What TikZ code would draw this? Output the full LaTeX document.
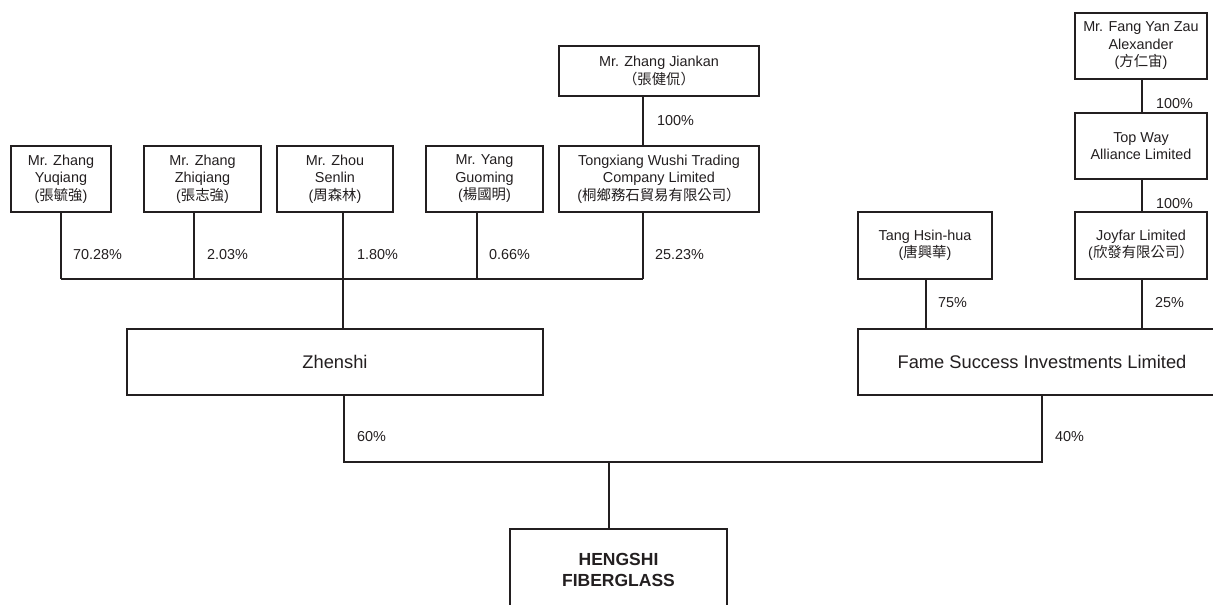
\documentclass[tikz,border=0pt]{standalone}
\usepackage{fontspec}
\setmainfont{Liberation Sans}
\newfontfamily\cjk{Noto Sans CJK TC}
\definecolor{ink}{HTML}{231F20}
\tikzset{
  box/.style={draw=ink, line width=1.1pt, fill=white, align=center, inner sep=0pt, text=ink,
    font=\fontsize{14.4}{17.5}\selectfont},
  bigbox/.style={box, font=\fontsize{18.3}{22}\selectfont},
  link/.style={draw=ink, line width=1.1pt},
  pct/.style={anchor=west, inner sep=0pt, text=ink, font=\fontsize{14.4}{17}\selectfont},
}
\begin{document}
\begin{tikzpicture}[x=1pt,y=-1pt]
\useasboundingbox (0,0) rectangle (1213,605);
\clip (0,0) rectangle (1213,605);
% top-left owners
\node[box, minimum width=100pt, minimum height=66pt] (yuq) at (61,179) {Mr. Zhang\\Yuqiang\\({\cjk 張毓強})};
\node[box, minimum width=117pt, minimum height=66pt] (zhi) at (202.5,179) {Mr. Zhang\\Zhiqiang\\({\cjk 張志強})};
\node[box, minimum width=116pt, minimum height=66pt] (zhou) at (335,179) {Mr. Zhou\\Senlin\\({\cjk 周森林})};
\node[box, minimum width=117pt, minimum height=66pt] (yang) at (484.5,179) {Mr. Yang\\Guoming\\({\cjk 楊國明})};
\node[box, minimum width=200pt, minimum height=66pt] (tong) at (659,179) {Tongxiang Wushi Trading\\Company Limited\\({\cjk 桐鄉務石貿易有限公司）}};
\node[box, minimum width=200pt, minimum height=50pt] (jian) at (659,71) {Mr. Zhang Jiankan\\{\cjk （張健侃）}};
% right owners
\node[box, minimum width=132pt, minimum height=66pt] (fang) at (1141,46) {Mr. Fang Yan Zau\\Alexander\\({\cjk 方仁宙})};
\node[box, minimum width=132pt, minimum height=66pt] (top) at (1141,146) {Top Way\\Alliance Limited};
\node[box, minimum width=132pt, minimum height=67pt] (joy) at (1141,245.5) {Joyfar Limited\\({\cjk 欣發有限公司）}};
\node[box, minimum width=134pt, minimum height=67pt] (tang) at (925,245.5) {Tang Hsin-hua\\({\cjk 唐興華})};
% middle
\node[bigbox, minimum width=416pt, minimum height=66pt] (zhen) at (335,362) {Zhenshi};
\node[bigbox, minimum width=368pt, minimum height=66pt] (fame) at (1042,362) {Fame Success Investments Limited};
\node[box, minimum width=217pt, minimum height=82pt, font=\fontsize{17.5}{21}\selectfont\bfseries] (heng) at (618.5,570) {HENGSHI\\FIBERGLASS};
% junctions
\coordinate (j1) at (61,279);
\coordinate (j2) at (194,279);
\coordinate (j3) at (343,279);
\coordinate (j4) at (477,279);
\coordinate (j5) at (643,279);
\coordinate (k1) at (344,462);
\coordinate (k2) at (1042,462);
\coordinate (k3) at (609,462);
\coordinate (m1) at (926,300);
\coordinate (m2) at (1142,300);
% connectors
\draw[link] (jian.south -| j5) -- (tong.north -| j5);
\draw[link] (j1) -- (j5);
\draw[link] (yuq.south -| j1) -- (j1);
\draw[link] (zhi.south -| j2) -- (j2);
\draw[link] (zhou.south -| j3) -- (j3) -- (zhen.north -| j3);
\draw[link] (yang.south -| j4) -- (j4);
\draw[link] (tong.south -| j5) -- (j5);
\draw[link] (zhen.south -| k1) -- (k1) -- (k2) -- (fame.south -| k2);
\draw[link] (k3) -- (heng.north -| k3);
\draw[link] (fang.south -| m2) -- (top.north -| m2);
\draw[link] (top.south -| m2) -- (joy.north -| m2);
\draw[link] (joy.south -| m2) -- (fame.north -| m2);
\draw[link] (tang.south -| m1) -- (fame.north -| m1);
% percentages
\node[pct] (p1) at (73,255) {70.28\%};
\node[pct] (p2) at (207,255) {2.03\%};
\node[pct] (p3) at (357,255) {1.80\%};
\node[pct] (p4) at (489,255) {0.66\%};
\node[pct] (p5) at (655,255) {25.23\%};
\node[pct] (p6) at (657,121) {100\%};
\node[pct] (p7) at (1156,104) {100\%};
\node[pct] (p8) at (1156,204) {100\%};
\node[pct] (p9) at (938,303) {75\%};
\node[pct] (p10) at (1155,303) {25\%};
\node[pct] (p11) at (357,437) {60\%};
\node[pct] (p12) at (1055,437) {40\%};
\end{tikzpicture}
\end{document}
